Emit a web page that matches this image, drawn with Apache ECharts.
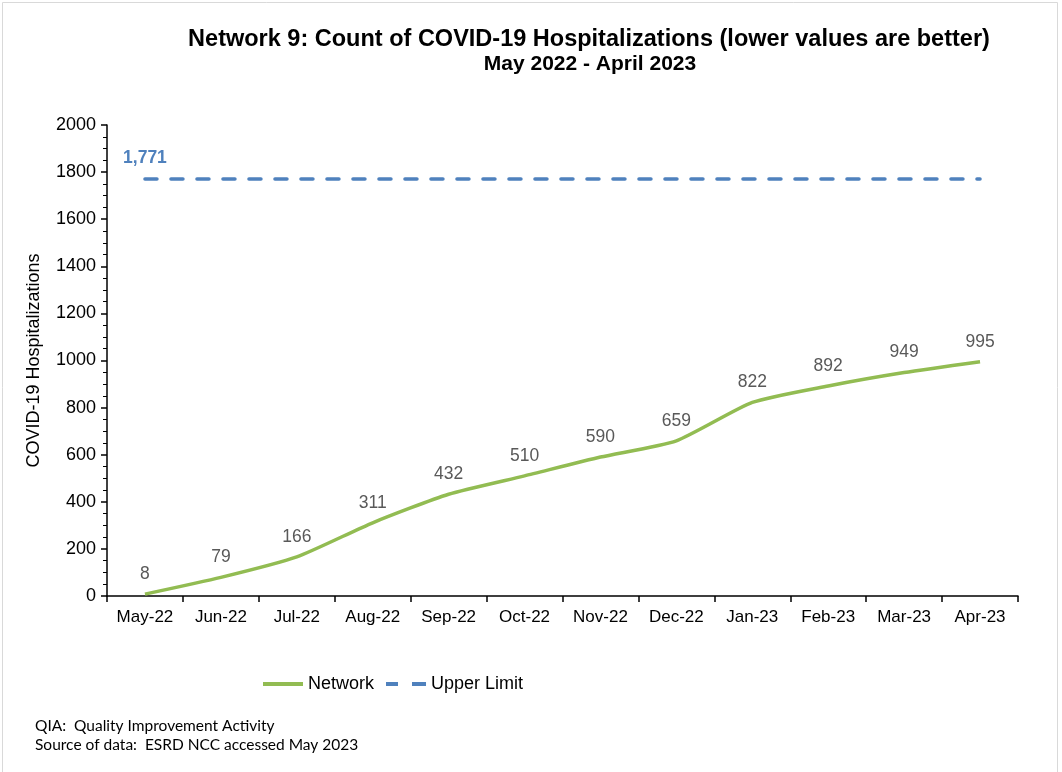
<!DOCTYPE html>
<html>
<head>
    <meta charset="utf-8">
    <title>Network 9 COVID-19 Hospitalizations</title>
    <script src="https://cdn.jsdelivr.net/npm/echarts@6/dist/echarts.min.js"></script>
    <style>
        body { margin: 0; background: #fff; }
    </style>
</head>
<body>
<div id="main" style="width: 1062px;height:772px;"></div>
<script type="text/javascript">
    // 月份
    var months = ['May-22', 'Jun-22', 'Jul-22', 'Aug-22', 'Sep-22', 'Oct-22',
                  'Nov-22', 'Dec-22', 'Jan-23', 'Feb-23', 'Mar-23', 'Apr-23'];
    // 累计住院数
    var network = [8, 79, 166, 311, 432, 510, 590, 659, 822, 892, 949, 995];
    // 上限
    var upperLimit = [1771, 1771, 1771, 1771, 1771, 1771, 1771, 1771, 1771, 1771, 1771, 1771];

    var myChart = echarts.init(document.getElementById('main'));

    var option = {
        animation: false,
        backgroundColor: '#fff',
        title: [{
            text: 'Network 9: Count of COVID-19 Hospitalizations (lower values are better)',
            left: 584,
            top: 23,
            textAlign: 'center',
            textStyle: { fontFamily: 'Liberation Sans', fontSize: 23.5, fontWeight: 'bold', color: '#000' }
        }, {
            text: 'May 2022 - April 2023',
            left: 585,
            top: 49,
            textAlign: 'center',
            textStyle: { fontFamily: 'Liberation Sans', fontSize: 21, fontWeight: 'bold', color: '#000' }
        }],
        legend: {
            left: 258,
            top: 670,
            itemWidth: 40,
            itemHeight: 4,
            itemGap: 12,
            textStyle: { fontFamily: 'Liberation Sans', fontSize: 18, color: '#000' },
            data: [
                { name: 'Network', icon: 'rect' },
                { name: 'Upper Limit', icon: 'path://M0,0 H12 V4 H0 Z M26,0 H40 V4 H26 Z' }
            ]
        },
        grid: { left: 107, right: 44, top: 125, bottom: 176 },
        xAxis: {
            type: 'category',
            data: months,
            axisLine: { lineStyle: { color: '#000', width: 1.5 } },
            axisTick: { show: true, interval: 0, length: 6, lineStyle: { color: '#000', width: 1.5 } },
            axisLabel: { interval: 0, fontFamily: 'Liberation Sans', fontSize: 17, color: '#000', margin: 13 }
        },
        yAxis: {
            type: 'value',
            min: 0,
            max: 2000,
            interval: 200,
            name: 'COVID-19 Hospitalizations',
            nameLocation: 'middle',
            nameGap: 64,
            nameTextStyle: { fontFamily: 'Liberation Sans', fontSize: 18, color: '#000' },
            axisLine: { show: true, lineStyle: { color: '#000', width: 1.5 } },
            axisTick: { show: true, inside: false, length: 6, lineStyle: { color: '#000', width: 1.5 } },
            minorTick: { show: true, splitNumber: 4, length: 4, lineStyle: { color: '#000', width: 1 } },
            splitLine: { show: false },
            axisLabel: {
                fontFamily: 'Liberation Sans', fontSize: 18, color: '#000', margin: 11,
                formatter: function (v) { return String(v); }
            }
        },
        series: [{
            name: 'Network',
            type: 'line',
            data: network,
            smooth: 0.2,
            symbol: 'circle',
            symbolSize: 0,
            showSymbol: true,
            lineStyle: { color: '#92bc52', width: 3.5 },
            itemStyle: { color: '#92bc52' },
            label: {
                show: true,
                position: 'top',
                distance: 11,
                fontFamily: 'Liberation Sans',
                fontSize: 17.5,
                color: '#595959'
            }
        }, {
            name: 'Upper Limit',
            type: 'line',
            data: upperLimit,
            symbol: 'circle',
            symbolSize: 0,
            showSymbol: true,
            lineStyle: { color: '#4f81bd', width: 3.5, type: [12, 14], cap: 'round' },
            itemStyle: { color: '#4f81bd' },
            label: {
                show: true,
                position: 'top',
                distance: 12,
                fontFamily: 'Liberation Sans',
                fontSize: 17.5,
                fontWeight: 'bold',
                color: '#4f81bd',
                formatter: function (p) {
                    return p.dataIndex === 0 ? p.value.toLocaleString('en-US') : '';
                }
            }
        }],
        graphic: [{
            type: 'text',
            left: 35,
            top: 718,
            style: { text: 'QIA:  Quality Improvement Activity', fontFamily: 'Lato, Noto Sans', fontSize: 15.5, fill: '#000' }
        }, {
            type: 'text',
            left: 35,
            top: 737,
            style: { text: 'Source of data:  ESRD NCC accessed May 2023', fontFamily: 'Lato, Noto Sans', fontSize: 15.5, fill: '#000' }
        }, {
            type: 'rect',
            left: 0,
            top: 0,
            shape: { width: 1055, height: 770 },
            style: { fill: 'none', stroke: '#d9d9d9', lineWidth: 1 }
        }]
    };

    myChart.setOption(option);
</script>
</body>
</html>
